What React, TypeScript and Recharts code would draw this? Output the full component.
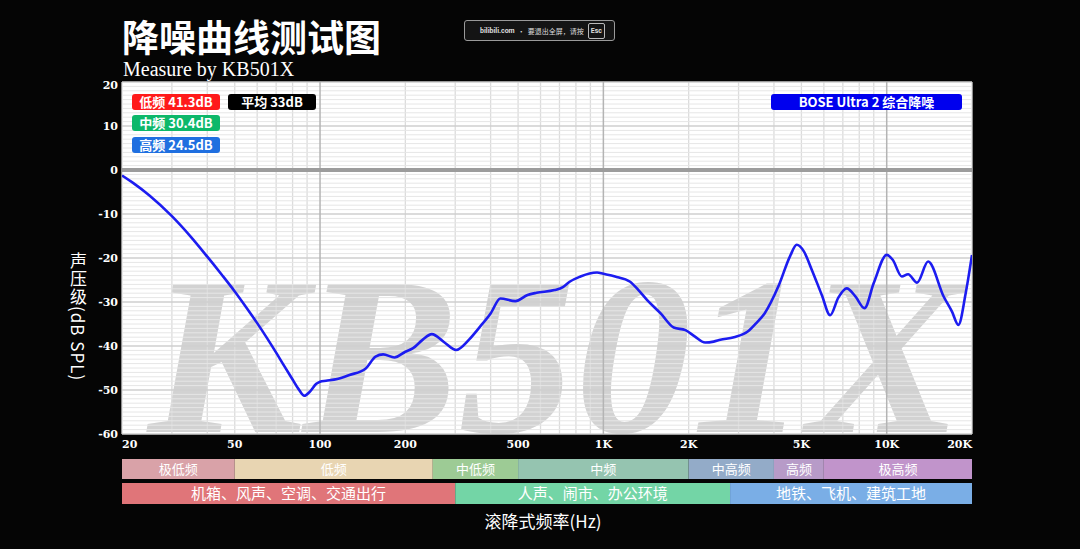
import React from 'react';
import { LineChart, Line, XAxis, YAxis, CartesianGrid, ReferenceArea } from 'recharts';

// ---- data ----
const freqHz = [20, 22, 25, 30, 35, 40, 45, 50, 55, 60, 65, 70, 75, 80, 84, 88, 92, 97, 100, 105, 115, 127, 145, 157, 167, 183, 200, 213, 230, 248, 275, 302, 335, 367, 400, 433, 489, 540, 581, 672, 720, 760, 830, 894, 950, 1000, 1100, 1243, 1330, 1425, 1593, 1771, 1949, 2100, 2286, 2450, 2587, 2890, 3232, 3450, 3707, 4143, 4565, 4811, 5100, 5442, 5900, 6317, 6750, 7227, 7750, 8346, 9000, 10000, 10500, 11300, 11900, 12800, 14000, 15900, 17000, 17900, 19000, 20000];
const attenuationDb = [-1.25, -3.05, -5.8, -10.5, -15.2, -19.7, -23.8, -27.6, -31.3, -34.8, -38.2, -41.5, -44.7, -47.6, -49.8, -51.3, -50.4, -48.6, -48.1, -47.9, -47.5, -46.6, -45.1, -42.4, -41.9, -42.6, -41.3, -40.5, -38.6, -37.3, -39.2, -40.9, -38.6, -35.6, -32.6, -29.2, -29.8, -28.4, -27.9, -27.3, -26.6, -25.4, -24.2, -23.5, -23.3, -23.6, -24.2, -25.4, -27.3, -29.5, -32.6, -35.8, -36.4, -37.8, -39.2, -39, -38.6, -38, -36.7, -34.9, -32.6, -26.5, -19.5, -17, -18.5, -22.7, -28.4, -33, -29, -26.9, -28.7, -31.4, -25.7, -19.3, -20.4, -24.2, -23.7, -25.6, -20.8, -28.8, -32.2, -35.2, -28, -19.3];

const xTicks = [20, 50, 100, 200, 500, 1000, 2000, 5000, 10000, 20000];
const yTicks = [-60, -50, -40, -30, -20, -10, 0, 10, 20];
const gridFreqMinor = [20, 30, 40, 50, 60, 70, 80, 90, 200, 300, 400, 500, 600, 700, 800, 900, 2000, 3000, 4000, 5000, 6000, 7000, 8000, 9000, 20000];
const gridFreqMajor = [100, 1000, 10000];
const gridDbMinor = Array.from({ length: 81 }, (_, i) => -60 + i).filter((v) => v % 10 !== 0);
const gridDbMajor = [-60, -50, -40, -30, -20, -10, 10, 20];

const bandLabels = ['极低频', '低频', '中低频', '中频', '中高频', '高频', '极高频'];
const bandEdges = [20, 50, 250, 500, 2000, 4000, 6000, 20000];
const bandColors = ['#d9a2a8', '#e8d5b2', '#9dcb95', '#95c4b0', '#93abc8', '#b79bc8', '#c194cb'];

const sceneLabels = ['机箱、风声、空调、交通出行', '人声、闹市、办公环境', '地铁、飞机、建筑工地'];
const sceneEdges = [20, 300, 2800, 20000];
const sceneColors = ['#e07579', '#73d5a6', '#7aaee6'];

const data = freqHz.map((f, i) => ({ f, db: attenuationDb[i] }));
const bandData = [{ f: 20, v: 0.5 }, { f: 20000, v: 0.5 }];

const fmtHz = (v: number) => (v >= 1000 ? `${v / 1000}K` : `${v}`);

const tickFont = { fill: '#fff', fontSize: 11, fontFamily: 'DejaVu Serif', fontWeight: 700 } as const;

const XTick = (props: any) => {
  const { x, y, payload } = props;
  const v = payload.value;
  const anchor = v === 20 ? 'start' : v === 20000 ? 'end' : 'middle';
  return (
    <text x={x} y={y + 14} textAnchor={anchor} {...tickFont}>
      {fmtHz(v)}
    </text>
  );
};

const YTick = (props: any) => {
  const { x, y, payload } = props;
  const v = payload.value;
  const shift = v === 20 ? 3 : 0;
  return (
    <text x={x} y={y + shift} dy="0.355em" textAnchor="end" {...tickFont}>
      {v}
    </text>
  );
};

const boxBase: React.CSSProperties = {
  position: 'absolute',
  color: '#fff',
  fontFamily: '"Noto Sans CJK SC", sans-serif',
  fontWeight: 700,
  fontSize: 13,
  lineHeight: '16px',
  height: 16,
  textAlign: 'center',
  borderRadius: 3,
};

function BandRow({ labels, edges, colors, top, height, fontSize }: any) {
  return (
    <div style={{ position: 'absolute', left: 0, top }}>
      <LineChart width={1080} height={height} data={bandData} margin={{ top: 0, right: 108, left: 122, bottom: 0 }}>
        <XAxis dataKey="f" type="number" scale="log" domain={[20, 20000]} hide allowDataOverflow />
        <YAxis type="number" domain={[0, 1]} hide allowDataOverflow />
        {labels.map((lab: string, i: number) => (
          <ReferenceArea
            key={lab}
            x1={edges[i]}
            x2={edges[i + 1]}
            y1={0}
            y2={1}
            fill={colors[i]}
            fillOpacity={1}
            stroke="none"
            label={{ value: lab, position: 'center', fill: '#fff', fontSize, fontFamily: '"Noto Sans CJK SC", serif' }}
          />
        ))}
        <Line dataKey="v" stroke="none" strokeOpacity={0} dot={false} isAnimationActive={false} />
      </LineChart>
    </div>
  );
}

export default function App() {
  return (
    <div style={{ position: 'relative', width: 1080, height: 549, background: '#050505', overflow: 'hidden' }}>
      <style>{`body{margin:0;background:#050505}`}</style>

      <div style={{ position: 'absolute', left: 122, top: 12, color: '#fff', fontFamily: '"Noto Sans CJK SC", sans-serif', fontWeight: 700, fontSize: 37, lineHeight: '48px' }}>
        降噪曲线测试图
      </div>
      <div style={{ position: 'absolute', left: 123, top: 57, color: '#fff', fontFamily: '"Liberation Serif", serif', fontSize: 20, lineHeight: '24px' }}>
        Measure by KB501X
      </div>

      <div style={{ position: 'absolute', left: 464, top: 20, width: 151, height: 21, boxSizing: 'border-box', border: '1.5px solid #9a9a9a', borderRadius: 3, background: '#141414', color: '#ddd', fontFamily: '"Noto Sans CJK SC", sans-serif', fontSize: 7, display: 'flex', alignItems: 'center', paddingLeft: 15 }}>
        <span style={{ fontWeight: 700, fontFamily: 'Roboto, sans-serif' }}>bilibili.com</span>
        <span style={{ margin: '0 3px' }}>·</span>
        <span>要退出全屏，请按</span>
        <span style={{ marginLeft: 4, border: '1px solid #bbb', borderRadius: 2, padding: '0 2px', lineHeight: '14px', fontWeight: 700, fontFamily: 'Roboto, sans-serif' }}>Esc</span>
      </div>

      {/* plot background */}
      <div style={{ position: 'absolute', left: 122, top: 82, width: 850, height: 352, background: '#ffffff' }} />
      {/* watermark */}
      <svg style={{ position: 'absolute', left: 122, top: 82 }} width={850} height={352}>
        <text x={26} y={350} textLength={815} lengthAdjust="spacingAndGlyphs" fill="#d2d2d2" fontFamily="Liberation Serif" fontStyle="italic" fontWeight={700} fontSize={224}>
          KB501X
        </text>
      </svg>

      <div style={{ position: 'absolute', left: 0, top: 0 }}>
        <LineChart width={1080} height={549} data={data} margin={{ top: 82, right: 108, left: 92, bottom: 85 }}>
          <CartesianGrid horizontal={false} verticalValues={gridFreqMinor} stroke="#dcdcdc" strokeWidth={1.3} />
          <CartesianGrid vertical={false} horizontalValues={gridDbMinor} stroke="#e6e6e6" strokeWidth={1} />
          <CartesianGrid vertical={false} horizontalValues={gridDbMajor} stroke="#cfcfcf" strokeWidth={1.3} />
          <CartesianGrid horizontal={false} verticalValues={gridFreqMajor} stroke="#b4b4b4" strokeWidth={1.5} />
          <CartesianGrid vertical={false} horizontalValues={[0]} stroke="#9c9c9c" strokeWidth={4} />
          <XAxis
            dataKey="f"
            type="number"
            scale="log"
            domain={[20, 20000]}
            ticks={xTicks}
            allowDataOverflow
            axisLine={false}
            tickLine={false}
            tickSize={0}
            tickMargin={0}
            height={30}
            interval={0}
            tick={<XTick />}
          />
          <YAxis
            type="number"
            domain={[-60, 20]}
            ticks={yTicks}
            allowDataOverflow
            axisLine={false}
            tickLine={false}
            tickSize={0}
            tickMargin={4}
            width={30}
            interval={0}
            tick={<YTick />}
          />
          <Line type="monotone" dataKey="db" stroke="#1c1cf0" strokeWidth={2.6} dot={false} isAnimationActive={false} />
        </LineChart>
      </div>

      {/* legend badges */}
      <div style={{ ...boxBase, left: 132, top: 94, width: 88, background: '#ff1a1a' }}>低频 41.3dB</div>
      <div style={{ ...boxBase, left: 228, top: 94, width: 88, background: '#000' }}>平均 33dB</div>
      <div style={{ ...boxBase, left: 132, top: 115, width: 88, background: '#0db86a' }}>中频 30.4dB</div>
      <div style={{ ...boxBase, left: 132, top: 137, width: 88, background: '#1f6fe0' }}>高频 24.5dB</div>
      <div style={{ ...boxBase, left: 771, top: 94, width: 191, background: '#0000ee' }}>BOSE Ultra 2 综合降噪</div>

      {/* y label */}
      <div style={{ position: 'absolute', left: 69, top: 252, color: '#fff', fontFamily: '"Noto Sans CJK SC", serif', fontSize: 17, letterSpacing: 1, writingMode: 'vertical-rl', lineHeight: '18px' }}>
        声压级(dB SPL)
      </div>

      <BandRow labels={bandLabels} edges={bandEdges} colors={bandColors} top={459} height={20} fontSize={13} />
      <BandRow labels={sceneLabels} edges={sceneEdges} colors={sceneColors} top={483} height={21} fontSize={15} />

      <div style={{ position: 'absolute', left: 0, width: 1086, top: 509, textAlign: 'center', color: '#fff', fontFamily: '"Noto Sans CJK SC", serif', fontSize: 17, lineHeight: '24px' }}>
        滚降式频率(Hz)
      </div>
    </div>
  );
}
